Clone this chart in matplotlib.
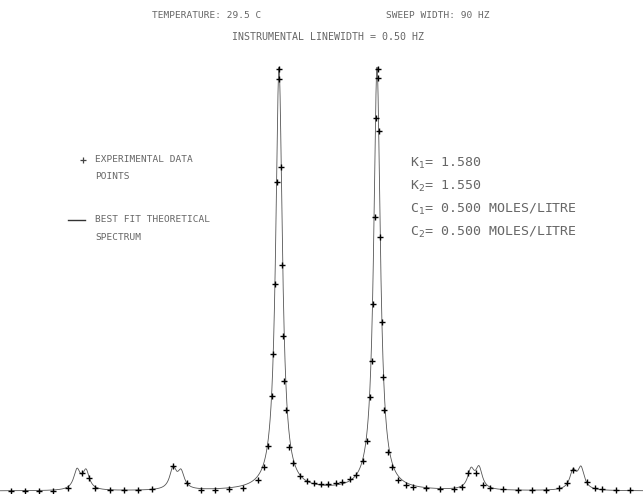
import numpy as np
import matplotlib
matplotlib.use("Agg")
import matplotlib.pyplot as plt

# ---- data (Hz, relative intensity) ----
peak_centers = [9.57, 10.86, 23.29, 24.43, 38.43, 52.43, 65.86, 67.00, 80.43, 81.57]
peak_heights = [4.6, 4.4, 4.9, 4.0, 100.0, 100.0, 4.4, 4.9, 4.2, 5.0]
peak_hwhm = [0.57, 0.57, 0.57, 0.57, 0.57, 0.57, 0.57, 0.57, 0.57, 0.57]

exp_x = [0.14, 2.14, 4.14, 6.14, 8.29, 10.24, 11.33, 12.14, 14.29, 16.29, 18.29, 20.29,
         23.24, 25.33, 27.29, 29.29, 31.29, 33.29, 35.39, 36.33, 36.90, 37.39, 37.61,
         37.86, 38.10, 38.39, 38.47, 38.67, 38.81, 39.04, 39.19, 39.39, 39.86, 40.39,
         41.43, 42.39, 43.43, 44.43, 45.47, 46.53, 47.39, 48.57, 49.39, 50.39, 50.96,
         51.43, 51.67, 51.90, 52.14, 52.29, 52.53, 52.53, 52.71, 52.86, 53.10, 53.24,
         53.43, 53.96, 54.53, 55.43, 56.57, 57.61, 59.43, 61.43, 63.47, 64.53, 65.47,
         66.53, 67.57, 68.57, 70.47, 72.53, 74.53, 76.53, 78.47, 79.53, 80.47, 82.39,
         83.57, 84.53, 86.57, 88.57]
exp_y = [0.07, 0.07, 0.07, 0.07, 0.78, 4.18, 3.0, 0.64, 0.24, 0.24, 0.24, 0.40,
         5.91, 1.82, 0.24, 0.24, 0.40, 0.78, 2.60, 5.74, 10.64, 22.46, 32.46,
         48.87, 72.98, 97.40, 99.76, 76.67, 53.43, 36.64, 25.93, 19.15, 10.47, 6.69,
         3.55, 2.43, 1.96, 1.65, 1.65, 1.82, 2.06, 2.77, 3.78, 7.09, 11.82,
         22.29, 30.73, 44.14, 64.85, 88.11, 99.76, 97.56, 85.18, 60.12, 39.95, 27.02,
         19.15, 9.29, 5.56, 2.67, 1.42, 1.02, 0.64, 0.47, 0.47, 1.02, 4.18,
         4.18, 1.42, 0.64, 0.40, 0.24, 0.24, 0.24, 0.64, 1.96, 4.96, 2.20,
         0.64, 0.40, 0.24, 0.24]

title_left = "TEMPERATURE: 29.5 C"
title_right = "SWEEP WIDTH: 90 HZ"
title_2 = "INSTRUMENTAL LINEWIDTH = 0.50 HZ"
params = [r"K$_1$= 1.580", r"K$_2$= 1.550",
          r"C$_1$= 0.500 MOLES/LITRE", r"C$_2$= 0.500 MOLES/LITRE"]

W, H = 643, 494
fig = plt.figure(figsize=(W / 100, H / 100), dpi=100)
ax = fig.add_axes([0, 0, 1, 1])
ax.set_xlim(-10 / 7, 633 / 7)
ax.set_ylim(-3 / 4.23, 491 / 4.23)
ax.axis("off")

# theoretical spectrum: sum of Lorentzian lines
xs = np.linspace(-1.4, 90.4, 6000)
ys = np.zeros_like(xs)
for c, h, g in zip(peak_centers, peak_heights, peak_hwhm):
    ys += h / (1 + ((xs - c) / g) ** 2)
ax.plot(xs, ys, color="#555555", lw=0.6)
ax.plot(exp_x, exp_y, linestyle="none", marker="+", ms=4.5, mew=1.0, color="black")

txt = dict(family="DejaVu Sans Mono", color="#666666", transform=fig.transFigure)
def fx(px): return px / W
def fy(py): return 1 - py / H

ax.text(fx(152), fy(16), title_left, fontsize=6.8, va="center", ha="left", **txt)
ax.text(fx(490), fy(16), title_right, fontsize=6.8, va="center", ha="right", **txt)
ax.text(fx(328), fy(37), title_2, fontsize=7.2, va="center", ha="center", **txt)

# legend
ax.plot([fx(83)], [fy(160)], marker="+", ms=4, mew=0.9, color="#444444",
        transform=fig.transFigure)
ax.text(fx(95), fy(160), "EXPERIMENTAL DATA", fontsize=6.8, va="center", **txt)
ax.text(fx(95), fy(176), "POINTS", fontsize=6.8, va="center", **txt)
ax.plot([fx(68), fx(85)], [fy(220), fy(220)], color="#333333", lw=1.0,
        transform=fig.transFigure)
ax.text(fx(95), fy(220), "BEST FIT THEORETICAL", fontsize=6.8, va="center", **txt)
ax.text(fx(95), fy(237), "SPECTRUM", fontsize=6.8, va="center", **txt)

for i, s in enumerate(params):
    ax.text(fx(410), fy(163 + 23 * i), s, fontsize=9.5, va="center", **txt)

fig.savefig("out.png", dpi=100)
